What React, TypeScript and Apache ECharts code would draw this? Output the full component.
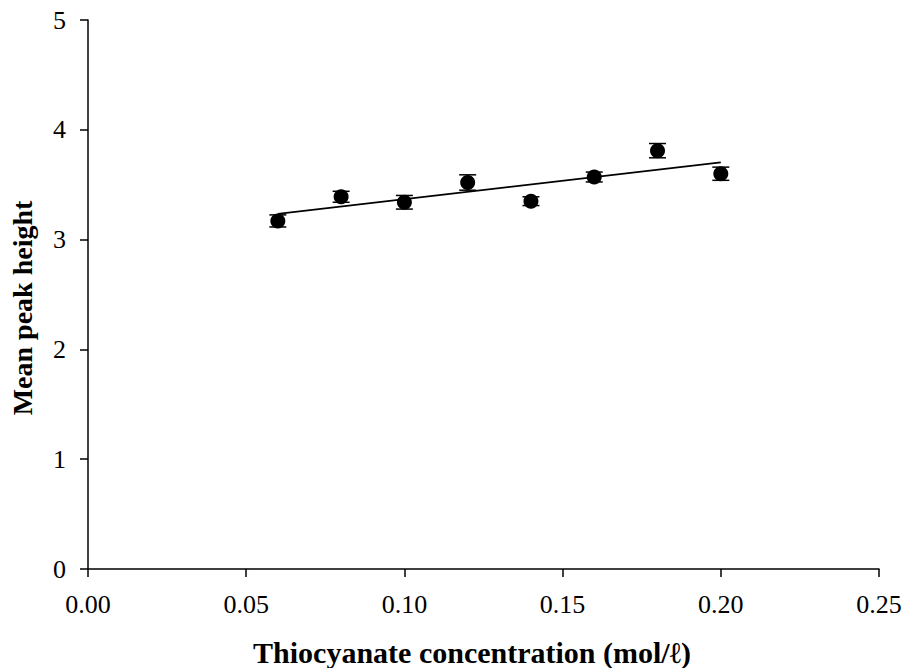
import React, { useEffect, useRef } from "react";
import * as echarts from "echarts";

// Thiocyanate concentration (mol/ℓ)
const concentrations = [0.06, 0.08, 0.1, 0.12, 0.14, 0.16, 0.18, 0.2];
// Mean peak height at each concentration
const peakHeights = [3.17, 3.39, 3.34, 3.52, 3.35, 3.57, 3.81, 3.6];
// Half-length of each error bar
const peakErrors = [0.055, 0.05, 0.062, 0.07, 0.04, 0.045, 0.065, 0.06];

const xTitle = "Thiocyanate concentration (mol/ℓ)";
const yTitle = "Mean peak height";

const FONT = "'Liberation Serif', 'Times New Roman', serif";

// Least-squares straight line through the points
function linearFit(xs: number[], ys: number[]) {
  const n = xs.length;
  const mx = xs.reduce((a, b) => a + b, 0) / n;
  const my = ys.reduce((a, b) => a + b, 0) / n;
  let sxy = 0;
  let sxx = 0;
  for (let i = 0; i < n; i++) {
    sxy += (xs[i] - mx) * (ys[i] - my);
    sxx += (xs[i] - mx) * (xs[i] - mx);
  }
  const slope = sxy / sxx;
  return { slope, intercept: my - slope * mx };
}

export default function App() {
  const ref = useRef<HTMLDivElement>(null);

  useEffect(() => {
    if (!ref.current) return;
    const chart = echarts.init(ref.current, null, { renderer: "svg" });

    const fit = linearFit(concentrations, peakHeights);
    const xMin = Math.min(...concentrations);
    const xMax = Math.max(...concentrations);
    const trend = [
      [xMin, fit.intercept + fit.slope * xMin],
      [xMax, fit.intercept + fit.slope * xMax],
    ];

    const points = concentrations.map((x, i) => [x, peakHeights[i]]);
    const errData = concentrations.map((x, i) => [
      x,
      peakHeights[i] - peakErrors[i],
      peakHeights[i] + peakErrors[i],
    ]);

    const axisLine = { show: true, lineStyle: { color: "#000", width: 1.5 } };
    const axisTick = {
      show: true,
      inside: false,
      length: 8,
      lineStyle: { color: "#000", width: 1.5 },
    };

    chart.setOption({
      animation: false,
      backgroundColor: "#fff",
      grid: { left: 88, top: 20, right: 26, bottom: 99, containLabel: false },
      xAxis: {
        type: "value",
        min: 0,
        max: 0.25,
        interval: 0.05,
        axisLine,
        axisTick,
        splitLine: { show: false },
        axisLabel: {
          margin: 22,
          color: "#000",
          fontFamily: FONT,
          fontSize: 26,
          formatter: (v: number) => v.toFixed(2),
        },
      },
      yAxis: {
        type: "value",
        min: 0,
        max: 5,
        interval: 1,
        axisLine,
        axisTick,
        splitLine: { show: false },
        axisLabel: {
          margin: 22,
          color: "#000",
          fontFamily: FONT,
          fontSize: 26,
        },
      },
      graphic: [
        {
          type: "text",
          x: 472,
          y: 652,
          style: {
            text: xTitle,
            font: `bold 30px ${FONT}`,
            fill: "#000",
            textAlign: "center",
            textVerticalAlign: "middle",
            align: "center",
            verticalAlign: "middle",
          },
        },
        {
          type: "text",
          x: 22,
          y: 308,
          rotation: Math.PI / 2,
          style: {
            text: yTitle,
            font: `bold 28px ${FONT}`,
            fill: "#000",
            textAlign: "center",
            textVerticalAlign: "middle",
            align: "center",
            verticalAlign: "middle",
          },
        },
      ],
      series: [
        {
          type: "line",
          data: trend,
          symbol: "none",
          lineStyle: { color: "#000", width: 1.6 },
          z: 2,
        },
        {
          type: "custom",
          data: errData,
          z: 3,
          renderItem: (_params: any, api: any) => {
            const x = api.value(0);
            const lo = api.coord([x, api.value(1)]);
            const hi = api.coord([x, api.value(2)]);
            const cap = 8.5;
            const style = { stroke: "#000", lineWidth: 1.5 };
            return {
              type: "group",
              children: [
                { type: "line", shape: { x1: lo[0], y1: lo[1], x2: hi[0], y2: hi[1] }, style },
                { type: "line", shape: { x1: lo[0] - cap, y1: lo[1], x2: lo[0] + cap, y2: lo[1] }, style },
                { type: "line", shape: { x1: hi[0] - cap, y1: hi[1], x2: hi[0] + cap, y2: hi[1] }, style },
              ],
            };
          },
        },
        {
          type: "scatter",
          data: points,
          symbol: "circle",
          symbolSize: 15,
          itemStyle: { color: "#000", opacity: 1 },
          z: 4,
        },
      ],
    });

    return () => chart.dispose();
  }, []);

  return (
    <div
      ref={ref}
      style={{ position: "absolute", left: 0, top: 0, width: 905, height: 668 }}
    />
  );
}
